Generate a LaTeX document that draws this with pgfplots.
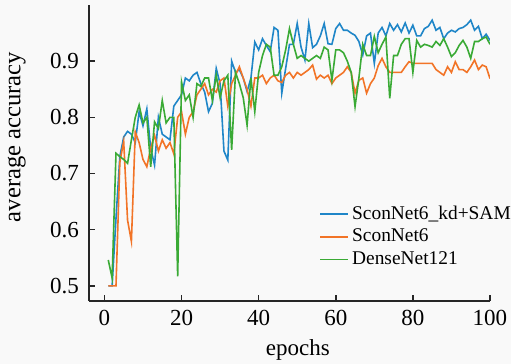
\documentclass[border=0pt]{standalone}
\usepackage{pgfplots}
\pgfplotsset{compat=1.18}
\usepackage{pgfplotstable}
\usepackage{fontspec}
\setmainfont{Liberation Serif}
\definecolor{cblue}{HTML}{1F86C8}
\definecolor{corange}{HTML}{F27427}
\definecolor{cgreen}{HTML}{3AAA35}
\definecolor{bgc}{HTML}{F9F9F9}

\pgfplotstableread{
e b o g
1 0.50 0.50 0.546
2 0.50 0.50 0.514
3 0.62 0.50 0.736
4 0.73 0.72 0.730
5 0.765 0.757 0.725
6 0.775 0.617 0.718
7 0.77 0.579 0.760
8 0.755 0.774 0.800
9 0.81 0.755 0.822
10 0.785 0.725 0.790
11 0.815 0.712 0.800
12 0.745 0.745 0.712
13 0.715 0.768 0.792
14 0.80 0.74 0.780
15 0.77 0.76 0.830
16 0.765 0.745 0.790
17 0.76 0.755 0.800
18 0.82 0.735 0.800
19 0.83 0.80 0.517
20 0.84 0.81 0.863
21 0.87 0.77 0.830
22 0.865 0.80 0.840
23 0.875 0.81 0.800
24 0.88 0.84 0.860
25 0.86 0.85 0.855
26 0.845 0.86 0.870
27 0.81 0.84 0.870
28 0.825 0.85 0.830
29 0.887 0.845 0.875
30 0.86 0.865 0.835
31 0.74 0.87 0.865
32 0.724 0.82 0.875
33 0.90 0.86 0.742
34 0.88 0.875 0.880
35 0.885 0.89 0.860
36 0.87 0.87 0.835
37 0.846 0.85 0.786
38 0.87 0.82 0.870
39 0.934 0.87 0.810
40 0.92 0.87 0.880
41 0.94 0.875 0.910
42 0.928 0.86 0.930
43 0.917 0.87 0.925
44 0.96 0.875 0.875
45 0.955 0.865 0.875
46 0.843 0.862 0.890
47 0.887 0.875 0.920
48 0.93 0.88 0.958
49 0.93 0.87 0.930
50 0.967 0.88 0.905
51 0.925 0.875 0.910
52 0.902 0.88 0.905
53 0.967 0.885 0.900
54 0.924 0.893 0.905
55 0.93 0.868 0.910
56 0.945 0.875 0.905
57 0.967 0.87 0.925
58 0.931 0.875 0.920
59 0.93 0.86 0.866
60 0.958 0.87 0.920
61 0.967 0.875 0.920
62 0.955 0.88 0.915
63 0.955 0.89 0.900
64 0.95 0.88 0.880
65 0.946 0.843 0.819
66 0.935 0.866 0.870
67 0.911 0.87 0.930
68 0.945 0.843 0.910
69 0.95 0.86 0.910
70 0.896 0.87 0.944
71 0.95 0.892 0.915
72 0.96 0.905 0.930
73 0.945 0.89 0.943
74 0.967 0.88 0.834
75 0.955 0.88 0.910
76 0.965 0.88 0.910
77 0.952 0.88 0.930
78 0.968 0.89 0.940
79 0.95 0.899 0.940
80 0.964 0.896 0.880
81 0.945 0.896 0.937
82 0.945 0.896 0.925
83 0.958 0.896 0.930
84 0.962 0.896 0.928
85 0.973 0.896 0.925
86 0.955 0.885 0.935
87 0.96 0.88 0.928
88 0.94 0.875 0.940
89 0.95 0.89 0.925
90 0.955 0.88 0.908
91 0.952 0.899 0.915
92 0.958 0.885 0.928
93 0.96 0.885 0.937
94 0.965 0.88 0.925
95 0.973 0.89 0.905
96 0.955 0.902 0.935
97 0.962 0.885 0.935
98 0.94 0.893 0.940
99 0.948 0.89 0.943
100 0.937 0.869 0.930
}\acc

\begin{document}
\begin{tikzpicture}
\fill[bgc] (-44.5pt,-31.5pt) rectangle (211pt,150.5pt);
\begin{axis}[
  at={(0,0)}, anchor=south west,
  scale only axis, width=200.5pt, height=148pt,
  xmin=-4, xmax=100, ymin=0.473, ymax=1.0,
  axis x line*=bottom, axis y line*=left,
  axis line style={-, line width=0.8pt, black!85},
  xtick={0,20,...,100}, ytick={0.5,0.6,0.7,0.8,0.9},
  /pgf/number format/assume math mode=true,
  tick align=inside, major tick length=3pt,
  tick style={line width=0.8pt, black!85},
  ticklabel style={font=\fontsize{11.5}{13}\selectfont},
  yticklabel style={xshift=-1.5pt, /pgf/number format/.cd, fixed, fixed zerofill, precision=1},
  xticklabel style={yshift=-1pt},
  every axis x label/.style={at={(axis description cs:0.521,-0.166)}, anchor=center, font=\fontsize{11.5}{13}\selectfont},
  every axis y label/.style={at={(axis description cs:-0.18,0.554)}, rotate=90, anchor=center, font=\fontsize{12.3}{14}\selectfont},
  xlabel={epochs}, ylabel={average accuracy},
  legend style={at={(0.559,0.35)}, anchor=north west, draw=none, fill=none,
    font=\fontsize{9.7}{11.6}\selectfont, row sep=-0.6pt,
    nodes={inner xsep=1.5pt}},
  legend image code/.code={\draw[#1] (0pt,0pt) -- (14pt,0pt);},
  legend cell align=left,
  every axis plot/.append style={line width=0.8pt},
]
\addplot[cblue, mark=none] table[x=e, y=b] {\acc};
\addplot[corange, mark=none] table[x=e, y=o] {\acc};
\addplot[cgreen, mark=none] table[x=e, y=g] {\acc};
\legend{SconNet6\_kd+SAM, SconNet6, DenseNet121}
\end{axis}
\pgfresetboundingbox
\path[use as bounding box] (-44.5pt,-31.5pt) rectangle (211pt,150.5pt);
\end{tikzpicture}
\end{document}
